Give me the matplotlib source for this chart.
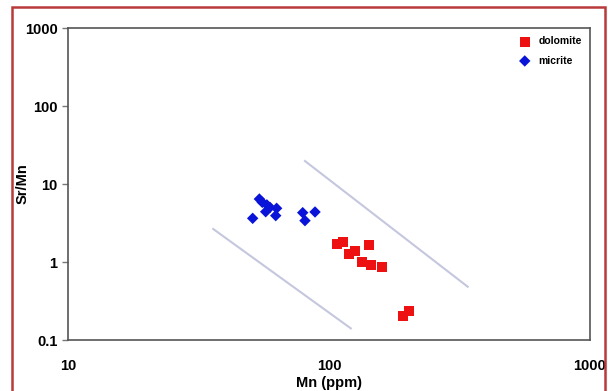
import matplotlib.pyplot as plt
from matplotlib.patches import Rectangle

plt.rcParams['font.family'] = ['Liberation Sans', 'DejaVu Sans']
plt.rcParams['font.weight'] = 'bold'

# micrite samples
micrite_mn = [51.0, 54.1, 55.5, 57.2, 59.4, 63.0, 62.5, 79.3, 80.9, 88.4, 57.8]
micrite_srmn = [3.63, 6.42, 5.82, 4.41, 5.02, 4.88, 3.93, 4.29, 3.39, 4.38, 5.4]

# dolomite samples
dolomite_mn = [107, 113.4, 119.6, 125.8, 141.9, 133.4, 144.5, 159.7, 191.5, 202.6]
dolomite_srmn = [1.70, 1.80, 1.27, 1.38, 1.64, 1.01, 0.916, 0.871, 0.205, 0.236]

# boundary lines
line1_mn = [36.0, 121.2]
line1_srmn = [2.65, 0.141]
line2_mn = [80.9, 340]
line2_srmn = [19.7, 0.482]

fig = plt.figure(figsize=(6.08, 3.91), dpi=100)
ax = fig.add_axes([68 / 608, 1 - 340 / 391, (590 - 68) / 608, (340 - 28) / 391])

ax.plot(line1_mn, line1_srmn, color='#c5c7de', lw=1.5, zorder=1)
ax.plot(line2_mn, line2_srmn, color='#c5c7de', lw=1.5, zorder=1)

ax.scatter(dolomite_mn, dolomite_srmn, marker='s', s=52, color='#ee1111',
           edgecolors='none', label='dolomite', zorder=3)
ax.scatter(micrite_mn, micrite_srmn, marker='D', s=34, color='#0a14d8',
           edgecolors='none', label='micrite', zorder=3)

ax.set_xscale('log')
ax.set_yscale('log')
ax.set_xlim(10, 1000)
ax.set_ylim(0.1, 1000)
ax.set_xticks([10, 100, 1000])
ax.set_xticklabels(['10', '100', '1000'])
ax.set_yticks([0.1, 1, 10, 100, 1000])
ax.set_yticklabels(['0.1', '1', '10', '100', '1000'])
ax.minorticks_off()
ax.tick_params(axis='x', length=0, pad=14, labelsize=10.5)
ax.tick_params(axis='y', length=4, width=1, color='#777777', labelsize=10.5)

for s in ax.spines.values():
    s.set_color('#555555')
    s.set_linewidth(1.2)

ax.set_xlabel('Mn (ppm)', fontsize=10.5, fontweight='bold', labelpad=2)
ax.set_ylabel('Sr/Mn', fontsize=10.5, fontweight='bold')
ax.yaxis.set_label_coords(-0.073, 0.5)

ax.legend(loc='upper right', frameon=False, fontsize=7.5, handletextpad=0.3,
          borderaxespad=0.4, labelspacing=0.9, scatterpoints=1)

fig.patches.append(Rectangle((12 / 608, -0.05), (605 - 12) / 608, 1 - 7 / 391 + 0.05,
                             transform=fig.transFigure, fill=False,
                             edgecolor='#b83a3a', lw=1.8))

fig.savefig('out.png', dpi=100)
